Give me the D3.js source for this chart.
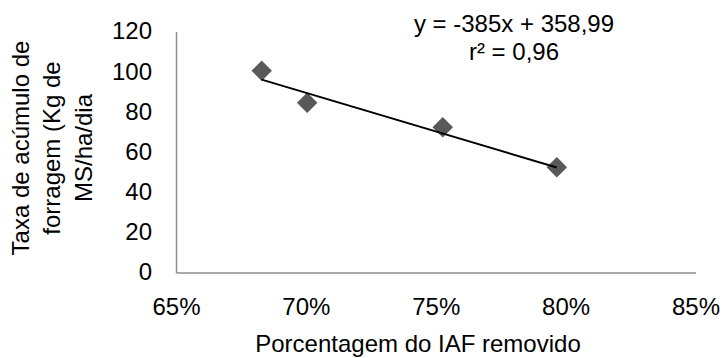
<!DOCTYPE html>
<html>
<head>
<meta charset="utf-8">
<script src="https://cdn.jsdelivr.net/npm/d3@7"></script>
<style>
  html, body { margin: 0; padding: 0; background: #fff; }
  svg { display: block; font-family: "Liberation Sans", Arial, sans-serif; }
</style>
</head>
<body>
<svg id="chart" width="725" height="358"></svg>
<script>
// Fração do IAF removido (x) e taxa de acúmulo de forragem (y)
const iafRemovido = [0.683, 0.7005, 0.7527, 0.7966];
const taxaAcumulo = [100.5, 84.5, 72.3, 52.4];

// Linha de tendência linear
const slope = -385;
const intercept = 358.99;
const eqLines = ["y = -385x + 358,99", "r² = 0,96"];

const xTicks = [0.65, 0.70, 0.75, 0.80, 0.85];
const yTicks = [0, 20, 40, 60, 80, 100, 120];
const xTitle = "Porcentagem do IAF removido";
const yTitleLines = ["Taxa de acúmulo de", "forragem (Kg de", "MS/ha/dia"];

const svg = d3.select("#chart");

const x = d3.scaleLinear().domain([0.65, 0.85]).range([176, 695.5]);
const y = d3.scaleLinear().domain([0, 120]).range([272.5, 31.5]);

const axisColor = "#8c8c8c";
const fontSize = 24;

// Eixo Y (linha sem marcas) e rótulos
const yAxis = svg.append("g").attr("transform", `translate(${x.range()[0]},0)`)
  .call(d3.axisLeft(y).tickValues(yTicks).tickSize(0).tickPadding(24).tickFormat(d3.format("d")));
yAxis.select(".domain").attr("stroke", axisColor).attr("stroke-width", 1.5);
yAxis.selectAll("text").attr("font-size", fontSize).attr("fill", "#000")
  .attr("font-family", "Liberation Sans, Arial, sans-serif").attr("dy", "0.31em");

// Eixo X
const xAxis = svg.append("g").attr("transform", `translate(0,${y(0)})`)
  .call(d3.axisBottom(x).tickValues(xTicks).tickSize(0).tickPadding(25)
    .tickFormat(d => Math.round(d * 100) + "%"));
xAxis.select(".domain").attr("stroke", axisColor).attr("stroke-width", 1.5);
xAxis.selectAll("text").attr("font-size", fontSize).attr("fill", "#000")
  .attr("font-family", "Liberation Sans, Arial, sans-serif").attr("dy", "0.71em");

// Títulos dos eixos
svg.append("text")
  .attr("x", 418).attr("y", 352)
  .attr("text-anchor", "middle")
  .attr("font-size", fontSize).attr("fill", "#000")
  .text(xTitle);

const yTitleX = [28.5, 60, 91.5];
yTitleLines.forEach((t, i) => {
  svg.append("text")
    .attr("transform", `translate(${yTitleX[i]},148) rotate(-90)`)
    .attr("text-anchor", "middle")
    .attr("font-size", fontSize).attr("fill", "#000")
    .text(t);
});

// Pontos observados (losangos)
const pts = iafRemovido.map((v, i) => ({ x: v, y: taxaAcumulo[i] }));
svg.append("g").selectAll("path").data(pts).join("path")
  .attr("d", d3.symbol().type(d3.symbolSquare).size(210))
  .attr("transform", d => `translate(${x(d.x)},${y(d.y)}) rotate(45)`)
  .attr("fill", "#595959");

// Linha de tendência entre o menor e o maior x
const xMin = d3.min(iafRemovido), xMax = d3.max(iafRemovido);
svg.append("line")
  .attr("x1", x(xMin)).attr("y1", y(slope * xMin + intercept))
  .attr("x2", x(xMax)).attr("y2", y(slope * xMax + intercept))
  .attr("stroke", "#000").attr("stroke-width", 2);

// Equação e coeficiente de determinação
eqLines.forEach((t, i) => {
  svg.append("text")
    .attr("x", 514).attr("y", 32 + i * 28)
    .attr("text-anchor", "middle")
    .attr("font-size", fontSize).attr("fill", "#000")
    .text(t);
});
</script>
</body>
</html>
